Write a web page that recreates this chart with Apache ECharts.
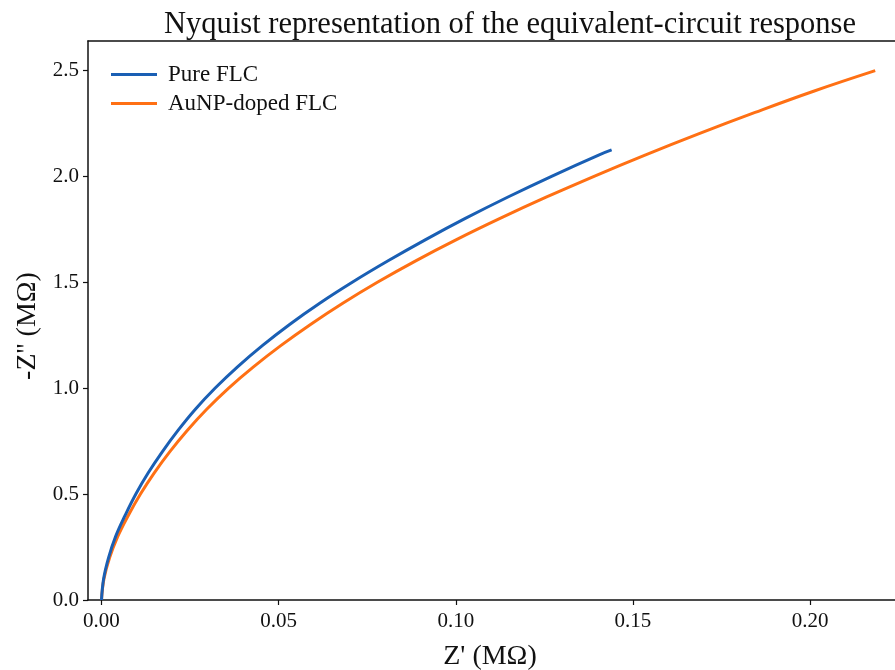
<!DOCTYPE html>
<html>
<head>
<meta charset="utf-8">
<script src="https://cdn.jsdelivr.net/npm/echarts@6/dist/echarts.min.js"></script>
<style>
html,body{margin:0;padding:0;background:#fff;}
#chart{width:895px;height:670px;}
</style>
</head>
<body>
<div id="chart"></div>
<script>
// Data (Z' and -Z'' in MΩ)
const seriesNames = ['Pure FLC', 'AuNP-doped FLC'];
const pureZre = [0, 0.0006, 0.0020, 0.0040, 0.0067, 0.0097, 0.0132, 0.0172, 0.0216, 0.0265, 0.0321, 0.0384, 0.0454, 0.0531, 0.0616, 0.0709, 0.0809, 0.0915, 0.1027, 0.1146, 0.1272, 0.1405, 0.1440];
const pureZim = [0, 0.1, 0.2, 0.3, 0.4, 0.5, 0.6, 0.7, 0.8, 0.9, 1.0, 1.1, 1.2, 1.3, 1.4, 1.5, 1.6, 1.7, 1.8, 1.9, 2.0, 2.1, 2.123];
const dopedZre = [0, 0.0007, 0.0023, 0.0046, 0.0076, 0.0110, 0.0149, 0.0193, 0.0242, 0.0297, 0.0359, 0.0429, 0.0506, 0.0590, 0.0681, 0.0780, 0.0887, 0.1002, 0.1125, 0.1255, 0.1392, 0.1536, 0.1687, 0.1845, 0.2010, 0.2184];
const dopedZim = [0, 0.1, 0.2, 0.3, 0.4, 0.5, 0.6, 0.7, 0.8, 0.9, 1.0, 1.1, 1.2, 1.3, 1.4, 1.5, 1.6, 1.7, 1.8, 1.9, 2.0, 2.1, 2.2, 2.3, 2.4, 2.497];
const xTicks = [0.00, 0.05, 0.10, 0.15, 0.20];
const yTicks = [0.0, 0.5, 1.0, 1.5, 2.0, 2.5];

const toPairs = (xs, ys) => xs.map((x, i) => [x, ys[i]]);
const FONT = '"Liberation Serif", "Times New Roman", serif';
const colors = ['#1a5fb4', '#ff7014'];
const X_MIN = -0.00381, X_MAX = 0.22399;

const chart = echarts.init(document.getElementById('chart'), null, {renderer: 'canvas'});
chart.setOption({
  animation: false,
  backgroundColor: '#ffffff',
  title: {
    text: 'Nyquist representation of the equivalent-circuit response',
    left: 505, top: 4, textAlign: 'center',
    textStyle: {fontFamily: FONT, fontSize: 30.5, fontWeight: 'normal', color: '#111'}
  },
  legend: {
    left: 106, top: 58, orient: 'vertical',
    itemWidth: 46, itemHeight: 3, itemGap: 6,
    icon: 'rect',
    data: seriesNames,
    textStyle: {fontFamily: FONT, fontSize: 23, color: '#111', padding: [0, 0, 0, 6]}
  },
  grid: {left: 88, top: 41, right: 0, bottom: 70, containLabel: false},
  xAxis: [{
    type: 'value', min: X_MIN, max: X_MAX,
    splitLine: {show: false},
    axisLine: {show: true, onZero: false, lineStyle: {color: '#111', width: 1.5}},
    axisTick: {show: true, customValues: xTicks, length: 5, lineStyle: {color: '#111', width: 1.2}},
    axisLabel: {customValues: xTicks, formatter: v => v.toFixed(2), fontFamily: FONT, fontSize: 21, color: '#111', margin: 11}
  }, {
    type: 'value', position: 'top', min: X_MIN, max: X_MAX,
    splitLine: {show: false},
    axisLine: {show: true, onZero: false, lineStyle: {color: '#111', width: 1.5}},
    axisTick: {show: false}, axisLabel: {show: false}
  }],
  yAxis: {
    type: 'value', min: 0, max: 2.637,
    splitLine: {show: false},
    axisLine: {show: true, onZero: false, lineStyle: {color: '#111', width: 1.5}},
    axisTick: {show: true, customValues: yTicks, length: 5, lineStyle: {color: '#111', width: 1.2}},
    axisLabel: {customValues: yTicks, formatter: v => v.toFixed(1), fontFamily: FONT, fontSize: 21, color: '#111', margin: 9}
  },
  graphic: [
    {type: 'text', style: {text: "Z' (MΩ)", x: 490, y: 657, align: 'center', verticalAlign: 'middle', font: '28px ' + FONT, fill: '#111'}},
    {type: 'text', style: {text: "-Z'' (MΩ)", align: 'center', verticalAlign: 'middle', font: '28px ' + FONT, fill: '#111'}, x: 28, y: 326, rotation: Math.PI / 2}
  ],
  series: [
    {name: seriesNames[0], type: 'line', xAxisIndex: 0, data: toPairs(pureZre, pureZim), smooth: 0.4, showSymbol: false, symbol: 'none', lineStyle: {color: colors[0], width: 3}, itemStyle: {color: colors[0]}, z: 3},
    {name: seriesNames[1], type: 'line', xAxisIndex: 0, data: toPairs(dopedZre, dopedZim), smooth: 0.4, showSymbol: false, symbol: 'none', lineStyle: {color: colors[1], width: 3}, itemStyle: {color: colors[1]}, z: 2}
  ]
});
</script>
</body>
</html>
